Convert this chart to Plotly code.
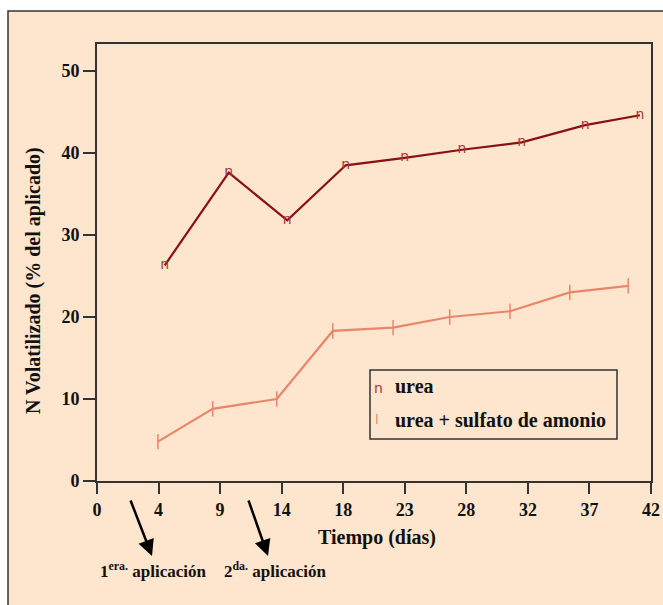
import plotly.graph_objects as go

# Axis positions (equally spaced tick slots) and their day labels
tick_pos = [0, 1, 2, 3, 4, 5, 6, 7, 8, 9]
tick_labels = ["0", "4", "9", "14", "18", "23", "28", "32", "37", "42"]

# urea series (x in tick-slot units, y in % N volatilised)
urea_x = [1.10, 2.14, 3.09, 4.04, 5.00, 5.93, 6.90, 7.93, 8.82]
urea_y = [26.3, 37.6, 31.8, 38.5, 39.4, 40.4, 41.3, 43.4, 44.6]

# urea + sulfato de amonio series
uas_x = [0.99, 1.88, 2.92, 3.83, 4.81, 5.73, 6.71, 7.68, 8.63]
uas_y = [4.8, 8.8, 10.0, 18.3, 18.7, 20.0, 20.7, 23.0, 23.8]

y_ticks = [0, 10, 20, 30, 40, 50]

BG = "#fde5ce"
DARK = "#8b1010"
DARK_MK = "#a83a3a"
LIGHT = "#e8866b"
TXT = "#111111"
FONT = "Liberation Serif"

W, H = 663, 605
L, R, T, B = 97, 651, 44, 481


def px(x):
    return (x - L) / (R - L)


def py(y):
    return (B - y) / (B - T)


fig = go.Figure()

fig.add_trace(go.Scatter(
    x=urea_x, y=urea_y, mode="lines+text", text=["n"] * len(urea_x),
    textposition="middle center",
    textfont=dict(family="DejaVu Sans", size=14, color=DARK_MK),
    line=dict(color=DARK, width=2.2), name="urea", showlegend=False,
))
fig.add_trace(go.Scatter(
    x=uas_x, y=uas_y, mode="lines+markers",
    marker=dict(symbol="line-ns", size=11, line=dict(color=LIGHT, width=1.5)),
    line=dict(color=LIGHT, width=2.2), name="urea + sulfato de amonio", showlegend=False,
))

shapes = [
    dict(type="rect", xref="paper", yref="paper", x0=px(8), x1=px(720), y0=py(700), y1=py(11),
         fillcolor=BG, line=dict(color="#333333", width=1.5), layer="below"),
    dict(type="rect", xref="paper", yref="paper", x0=px(370), x1=px(617), y0=py(439), y1=py(370),
         fillcolor=BG, line=dict(color="#333333", width=1.5)),
]


def note(x, y, text, size, color=TXT, family=FONT, xanchor="center", **kw):
    return dict(xref="paper", yref="paper", x=px(x), y=py(y), text=text, showarrow=False,
                xanchor=xanchor, yanchor="middle", font=dict(family=family, size=size, color=color), **kw)


ann = [
    note(378, 388, "n", 14, DARK_MK, "DejaVu Sans"),
    note(393, 386, "<b>urea</b>", 20, xanchor="left"),
    note(377, 419, "l", 13, LIGHT, "DejaVu Sans"),
    note(393, 420, "<b>urea + sulfato de amonio</b>", 20, xanchor="left"),
    note(377, 537, "<b>Tiempo (días)</b>", 20),
    note(33, 281, "<b>N Volatilizado (% del aplicado)</b>", 20, textangle=-90),
    note(153, 570, "<b>1<sup>era.</sup> aplicación</b>", 17),
    note(275, 570, "<b>2<sup>da.</sup> aplicación</b>", 17),
]
# application arrows
for hx, tx in [(152, 130), (268, 248)]:
    ann.append(dict(xref="paper", yref="paper", x=px(hx), y=py(556), ax=tx - hx, ay=499 - 556,
                    text="", showarrow=True, arrowhead=2, arrowsize=1.3, arrowwidth=2.5,
                    arrowcolor="#000000"))

fig.update_layout(
    width=W, height=H,
    margin=dict(l=L, r=W - R, t=T, b=H - B, pad=0, autoexpand=False),
    paper_bgcolor="white", plot_bgcolor="rgba(0,0,0,0)",
    shapes=shapes, annotations=ann, showlegend=False,
    xaxis=dict(range=[0, 9], tickvals=tick_pos, ticktext=tick_labels, automargin=False,
               showgrid=False, zeroline=False, showline=True, mirror=True,
               linecolor="#333333", linewidth=1.8, ticks="outside", ticklen=11,
               tickwidth=1.8, tickcolor="#333333",
               tickfont=dict(family=FONT, size=18, color=TXT, weight="bold")),
    yaxis=dict(range=[0, (B - T) / 8.2], tickvals=y_ticks, automargin=False,
               showgrid=False, zeroline=False, showline=True, mirror=True,
               linecolor="#333333", linewidth=1.8, ticks="outside", ticklen=12,
               tickwidth=1.8, tickcolor="#333333",
               tickfont=dict(family=FONT, size=18, color=TXT, weight="bold")),
)

fig.write_html("out.html", config={"displayModeBar": False},
               post_script="document.body.style.margin='0';")
